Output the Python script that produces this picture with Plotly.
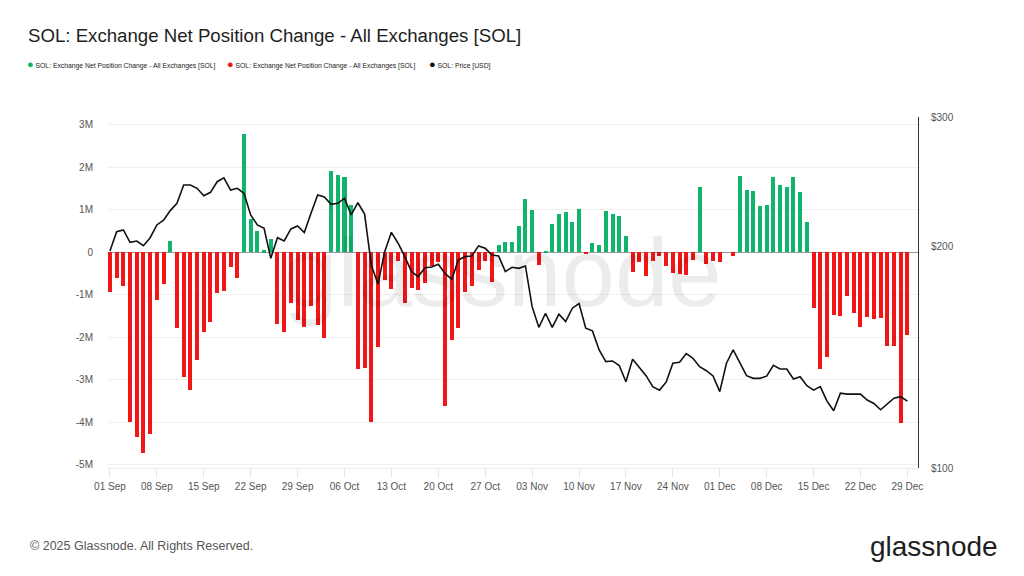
import math
import pandas as pd
import plotly.graph_objects as go

# ---------------- data ----------------
start_date = "2025-09-01"
end_date = "2025-12-29"
dates = pd.date_range(start_date, end_date, freq="D")

# Exchange net position change, millions of SOL (daily)
net_change_m = [
    -0.93, -0.61, -0.80, -4.00, -4.35, -4.72, -4.29, -1.13, -0.76, 0.27,
    -1.79, -2.95, -3.24, -2.54, -1.87, -1.65, -0.96, -0.91, -0.35, -0.61,
    2.78, 0.79, 0.50, 0.04, 0.31, -1.69, -1.89, -1.20, -1.59, -1.76,
    -1.26, -1.72, -2.02, 1.91, 1.81, 1.77, 1.12, -2.76, -2.72, -4.00,
    -2.24, -0.65, -0.87, -0.20, -1.20, -0.85, -0.90, -0.72, -0.32, -0.24,
    -3.62, -2.07, -1.78, -0.93, -0.79, -0.43, -0.22, -0.71, 0.17, 0.25,
    0.25, 0.61, 1.26, 1.00, -0.30, 0.02, 0.67, 0.90, 0.94, 0.72,
    1.02, -0.03, 0.21, 0.17, 0.96, 0.89, 0.85, 0.37, -0.46, -0.24,
    -0.55, -0.22, -0.10, -0.33, -0.50, -0.52, -0.54, -0.18, 1.53, -0.29,
    -0.20, -0.24, 0.00, -0.08, 1.80, 1.46, 1.43, 1.08, 1.11, 1.77,
    1.57, 1.54, 1.76, 1.42, 0.71, -1.31, -2.76, -2.47, -1.47, -1.51,
    -1.04, -1.44, -1.76, -1.52, -1.57, -1.55, -2.22, -2.20, -4.02, -1.95,
]

# SOL price, USD (daily)
price_usd = [
    197.2, 209.5, 210.7, 202.7, 203.5, 200.5, 205.6, 214.0, 217.2, 223.8,
    229.0, 242.5, 242.5, 240.0, 234.5, 237.0, 245.0, 248.0, 238.7, 240.0,
    236.3, 220.8, 214.0, 211.8, 192.8, 205.6, 203.5, 211.3, 213.3, 208.9,
    222.0, 235.0, 233.5, 228.2, 229.0, 232.6, 220.8, 229.4, 221.4, 188.8,
    177.9, 196.8, 209.1, 202.1, 193.8, 184.9, 182.0, 187.2, 187.6, 189.2,
    183.9, 180.5, 191.8, 193.8, 194.2, 200.4, 198.9, 194.8, 194.2, 184.9,
    187.4, 186.8, 188.2, 165.7, 155.3, 162.3, 155.3, 161.8, 158.1, 164.9,
    167.3, 154.9, 153.6, 144.7, 139.5, 139.8, 137.8, 131.0, 140.6, 137.2,
    133.5, 129.0, 127.6, 130.8, 138.8, 139.2, 143.1, 141.0, 137.3, 135.6,
    133.4, 127.0, 138.8, 144.7, 138.8, 133.5, 132.4, 132.4, 133.3, 137.9,
    136.3, 136.3, 132.1, 133.1, 129.4, 127.6, 129.0, 123.3, 119.6, 126.4,
    126.0, 126.0, 126.0, 123.7, 122.4, 120.0, 122.2, 124.4, 125.0, 123.3,
]

left_tick_values_m = [-5, -4, -3, -2, -1, 0, 1, 2, 3]
left_tick_labels = ["-5M", "-4M", "-3M", "-2M", "-1M", "0", "1M", "2M", "3M"]
right_tick_values = [100, 200, 300]
right_tick_labels = ["$100", "$200", "$300"]

series_name = "SOL: Exchange Net Position Change - All Exchanges [SOL]"
price_name = "SOL: Price [USD]"
title_text = "SOL: Exchange Net Position Change - All Exchanges [SOL]"

# ---------------- styling ----------------
GREEN = "#10b46d"
RED = "#f21616"
BLACK = "#111111"
FONT = "Liberation Sans, Arial, sans-serif"
W, H = 1024, 576
L, R, T, B = 108, 106, 117, 108

net = [v * 1e6 for v in net_change_m]
pos = [v if v > 0 else None for v in net]
neg = [v if v < 0 else None for v in net]
day_ms = 86400000
bar_w = 0.6 * day_ms

fig = go.Figure()
fig.add_trace(go.Bar(x=dates, y=pos, marker_color=GREEN, marker_line_width=0,
                     width=bar_w, name=series_name))
fig.add_trace(go.Bar(x=dates, y=neg, marker_color=RED, marker_line_width=0,
                     width=bar_w, name=series_name))
fig.add_trace(go.Scatter(x=dates, y=price_usd, mode="lines", yaxis="y2",
                         line=dict(color=BLACK, width=1.6),
                         name=price_name))


def px_x(px):
    return (px - L) / (W - L - R)


def px_y(py):
    return (H - B - py) / (H - T - B)


x0 = dates[0] - pd.Timedelta(hours=7)
x1 = dates[-1] + pd.Timedelta(hours=38)
tick_dates = pd.date_range(start_date, end_date, freq="7D")

fig.update_layout(
    width=W, height=H,
    margin=dict(l=L, r=R, t=T, b=B),
    paper_bgcolor="white", plot_bgcolor="white",
    barmode="overlay", bargap=0,
    font=dict(family=FONT, color="#555555", size=10),
    title=dict(text=title_text, x=28 / W, xref="container", xanchor="left",
               y=1 - 35 / H, yref="container", yanchor="middle",
               font=dict(family=FONT, size=18.65, color="#1e1e1e")),
    showlegend=False,
    xaxis=dict(type="date", range=[x0, x1], tickvals=tick_dates,
               tickformat="%d %b", showgrid=False, zeroline=False,
               ticks="outside", ticklen=9, tickcolor="#e4e4e4",
               showline=True, linecolor="#ececec", linewidth=1,
               tickfont=dict(size=10, color="#555555")),
    yaxis=dict(range=[-5.08e6, 3.18e6],
               tickvals=[v * 1e6 for v in left_tick_values_m],
               ticktext=left_tick_labels, showgrid=True,
               gridcolor="#f0f0f0", gridwidth=1, zeroline=True,
               zerolinecolor="#9a9a9a", zerolinewidth=1,
               ticks="outside", ticklen=12, tickcolor="rgba(0,0,0,0)",
               showline=False, tickfont=dict(size=10, color="#555555")),
    yaxis2=dict(type="log", range=[math.log10(100), math.log10(300)],
                overlaying="y", side="right", tickvals=right_tick_values,
                ticktext=right_tick_labels, showgrid=False, zeroline=False,
                showline=True, linecolor="#333333", linewidth=1,
                ticks="outside", ticklen=10, tickcolor="rgba(0,0,0,0)",
                tickfont=dict(size=10, color="#555555")),
)

# legend row (dot + label), laid out like the reference
legend_items = [(series_name, GREEN, 25), (series_name, RED, 225),
                (price_name, BLACK, 427)]
for label, col, xpx in legend_items:
    fig.add_annotation(
        text=f'<span style="color:{col};font-size:11px">●</span> {label}',
        xref="paper", yref="paper", x=px_x(xpx), y=px_y(64),
        xanchor="left", yanchor="middle", showarrow=False,
        font=dict(family=FONT, size=6.8, color="#222222"))

# watermark
fig.add_annotation(text="glassnode", xref="paper", yref="paper",
                   x=px_x(503), y=px_y(272), xanchor="center",
                   yanchor="middle", showarrow=False,
                   font=dict(family=FONT, size=96,
                             color="rgba(0,0,0,0.075)"))
# footer
fig.add_annotation(text="© 2025 Glassnode. All Rights Reserved.",
                   xref="paper", yref="paper", x=px_x(28), y=px_y(546),
                   xanchor="left", yanchor="middle", showarrow=False,
                   font=dict(family=FONT, size=12.5, color="#555555"))
fig.add_annotation(text="glassnode", xref="paper", yref="paper",
                   x=px_x(1000), y=px_y(546), xanchor="right",
                   yanchor="middle", showarrow=False,
                   font=dict(family=FONT, size=28, color="#1e1e1e"))

fig.write_html("out.html")
